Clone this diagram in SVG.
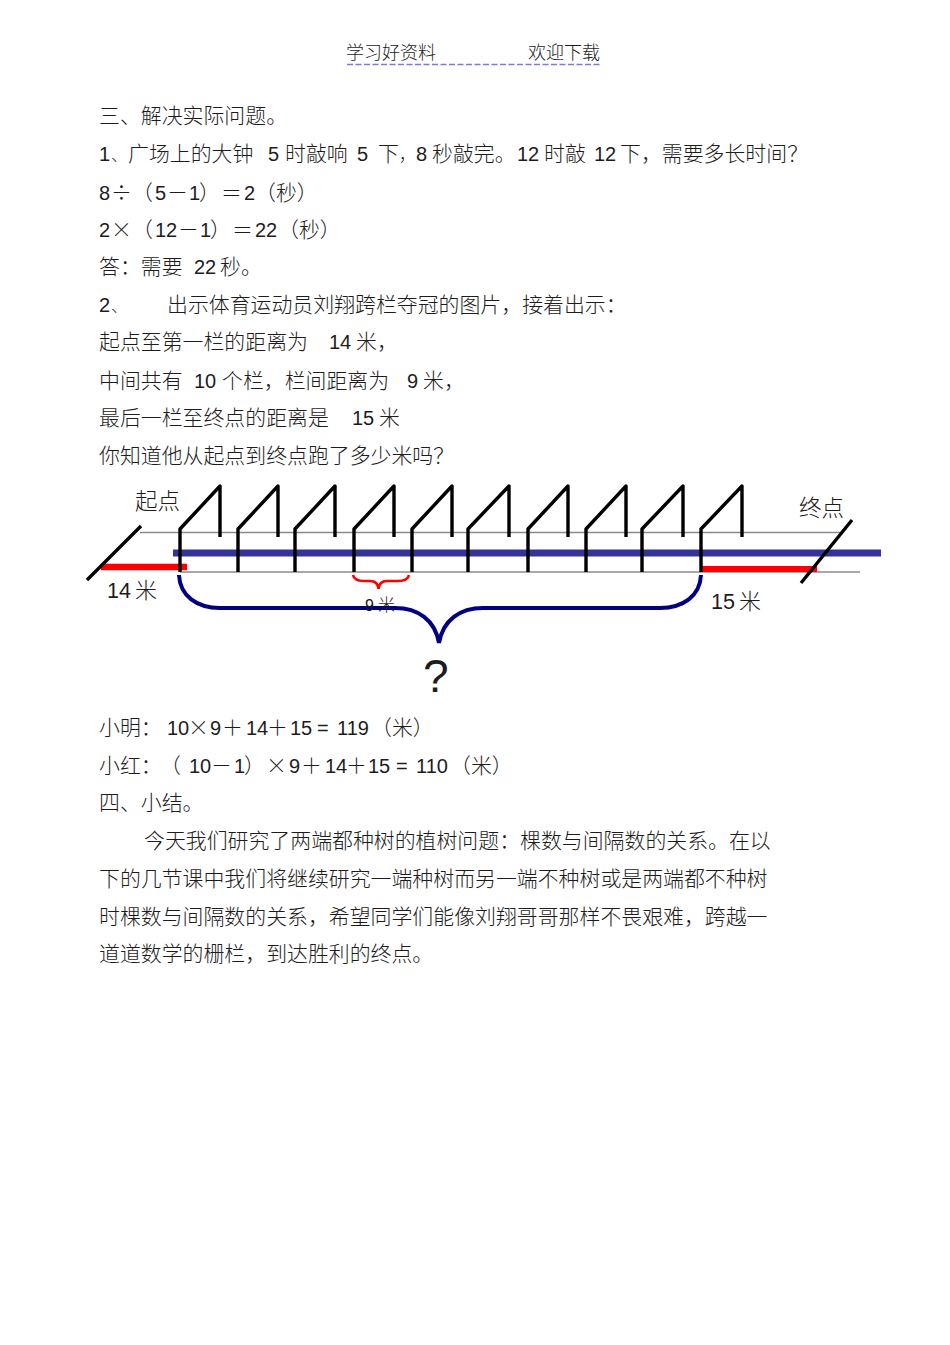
<svg xmlns="http://www.w3.org/2000/svg" width="950" height="1345" viewBox="0 0 950 1345">
<style>
text{font-family:"Noto Sans CJK SC","Liberation Sans",sans-serif;font-size:20.9px;fill:#1c1c1c;font-weight:300}
.n{font-family:"Liberation Sans","Noto Sans CJK SC",sans-serif;font-size:20px;font-weight:400}
.h{font-size:18px}
.p{font-size:16.500px}
.g{stroke:#8a8a8a;stroke-width:1.7;fill:none}
.k{stroke:#000;stroke-width:3.4;fill:none;stroke-linejoin:round}
</style>
<rect width="950" height="1345" fill="#fff"/>
<g id="header">
<text class="h" x="346" y="59">学习好资料</text>
<text class="h" x="528" y="59">欢迎下载</text>
<line x1="347" y1="64.5" x2="600" y2="64.5" stroke="#7a7ae6" stroke-width="1.6" stroke-dasharray="6 2.5"/>
</g>
<g id="text-top">
<text x="99" y="123">三、解决实际问题。</text>
<text y="161"><tspan class="n" x="99">1</tspan><tspan class="p" x="111">、</tspan><tspan x="128">广场上的大钟</tspan><tspan class="n" x="268">5</tspan><tspan x="285">时敲响</tspan><tspan class="n" x="357">5</tspan><tspan x="378">下</tspan><tspan class="p" x="399">，</tspan><tspan class="n" x="416">8</tspan><tspan x="432">秒敲完。</tspan><tspan class="n" x="517">12</tspan><tspan x="544">时敲</tspan><tspan class="n" x="594">12</tspan><tspan x="620">下，需要多长时间？</tspan></text>
<text y="200"><tspan class="n" x="99">8</tspan><tspan x="111">÷</tspan><tspan x="132">（</tspan><tspan class="n" x="155">5</tspan><tspan x="167">－</tspan><tspan class="n" x="189">1</tspan><tspan x="199">）</tspan><tspan x="221">＝</tspan><tspan class="n" x="244">2</tspan><tspan x="255">（秒）</tspan></text>
<text y="237"><tspan class="n" x="99">2</tspan><tspan x="111">×</tspan><tspan x="132">（</tspan><tspan class="n" x="155">12</tspan><tspan x="178">－</tspan><tspan class="n" x="200">1</tspan><tspan x="210">）</tspan><tspan x="232">＝</tspan><tspan class="n" x="255">22</tspan><tspan x="278">（秒）</tspan></text>
<text y="274"><tspan x="99">答：需要</tspan><tspan class="n" x="194">22</tspan><tspan x="220">秒。</tspan></text>
<text y="312"><tspan class="n" x="99">2</tspan><tspan class="p" x="111">、</tspan><tspan x="167">出示体育运动员刘翔跨栏夺冠的图片，接着出示：</tspan></text>
<text y="349"><tspan x="99">起点至第一栏的距离为</tspan><tspan class="n" x="329">14</tspan><tspan x="356">米，</tspan></text>
<text y="388"><tspan x="99">中间共有</tspan><tspan class="n" x="194">10</tspan><tspan x="222">个栏，栏间距离为</tspan><tspan class="n" x="407">9</tspan><tspan x="423">米，</tspan></text>
<text y="425"><tspan x="99">最后一栏至终点的距离是</tspan><tspan class="n" x="352">15</tspan><tspan x="379">米</tspan></text>
<text x="99" y="463">你知道他从起点到终点跑了多少米吗？</text>
</g>
<g id="track">
<line class="g" x1="140" y1="532.500" x2="840" y2="532.500"/>
<line class="g" x1="180" y1="572" x2="860" y2="572"/>
<line x1="173" y1="553" x2="881" y2="553" stroke="#333399" stroke-width="7"/>
<line x1="101" y1="567" x2="187" y2="567" stroke="#f00" stroke-width="6.500"/>
<line x1="702" y1="569" x2="817" y2="569" stroke="#f00" stroke-width="6"/>
<line class="k" x1="87" y1="580" x2="141" y2="526"/>
<line class="k" x1="801" y1="583" x2="852" y2="520"/>
</g>
<g id="hurdles">
<path class="k" d="M180 572V529L220 486V537"/>
<path class="k" d="M238 572V529L278 486V537"/>
<path class="k" d="M295 572V529L335 486V537"/>
<path class="k" d="M354 572V529L394 486V537"/>
<path class="k" d="M412 572V529L452 486V537"/>
<path class="k" d="M468 572V529L509 486V537"/>
<path class="k" d="M528 572V529L568 486V537"/>
<path class="k" d="M586 572V529L626 486V537"/>
<path class="k" d="M642 572V529L683 486V537"/>
<path class="k" d="M701 572V529L742 486V537"/>
</g>
<g id="braces" fill="none">
<path d="M353 575C354 580 358 581 364 581H370C375 581 378 583 378.500 589C379 583 382 581 387 581H398C404 581 408 580 409 575" stroke="#f00" stroke-width="2.600"/>
<path d="M179 575C180 596 197 608 220 608H395C418 608 435 620 439 643C443 620 460 608 483 608H660C683 608 700 596 701 575" stroke="#000080" stroke-width="4"/>
</g>
<g id="labels">
<text x="135" y="509" style="font-size:22.500px">起点</text>
<text x="799" y="516" style="font-size:22.500px">终点</text>
<text y="598"><tspan class="n" x="107" style="font-size:21.500px">14</tspan><tspan x="135" style="font-size:22px">米</tspan></text>
<text y="609"><tspan class="n" x="711" style="font-size:21.500px">15</tspan><tspan x="739" style="font-size:22px">米</tspan></text>
<text y="611"><tspan class="n" x="365" style="font-size:16px">9</tspan><tspan x="378" style="font-size:17px">米</tspan></text>
<text class="n" x="423" y="692" style="font-size:46px">?</text>
</g>
<g id="text-bottom">
<text y="735"><tspan x="99">小明：</tspan><tspan class="n" x="167">10</tspan><tspan x="188">×</tspan><tspan class="n" x="210">9</tspan><tspan x="222">＋</tspan><tspan class="n" x="246">14</tspan><tspan x="267">＋</tspan><tspan class="n" x="290">15</tspan><tspan class="n" x="317">=</tspan><tspan class="n" x="337">119</tspan><tspan x="371">（米）</tspan></text>
<text y="773"><tspan x="99">小红：</tspan><tspan x="160">（</tspan><tspan class="n" x="189">10</tspan><tspan x="211">－</tspan><tspan class="n" x="234">1</tspan><tspan x="244">）</tspan><tspan x="266">×</tspan><tspan class="n" x="289">9</tspan><tspan x="301">＋</tspan><tspan class="n" x="325">14</tspan><tspan x="346">＋</tspan><tspan class="n" x="368">15</tspan><tspan class="n" x="396">=</tspan><tspan class="n" x="416">110</tspan><tspan x="450">（米）</tspan></text>
<text x="99" y="810">四、小结。</text>
<text x="144" y="848">今天我们研究了两端都种树的植树问题：棵数与间隔数的关系。在以</text>
<text x="99" y="886">下的几节课中我们将继续研究一端种树而另一端不种树或是两端都不种树</text>
<text x="99" y="924">时棵数与间隔数的关系，希望同学们能像刘翔哥哥那样不畏艰难，跨越一</text>
<text x="99" y="961">道道数学的栅栏，到达胜利的终点。</text>
</g>
</svg>
